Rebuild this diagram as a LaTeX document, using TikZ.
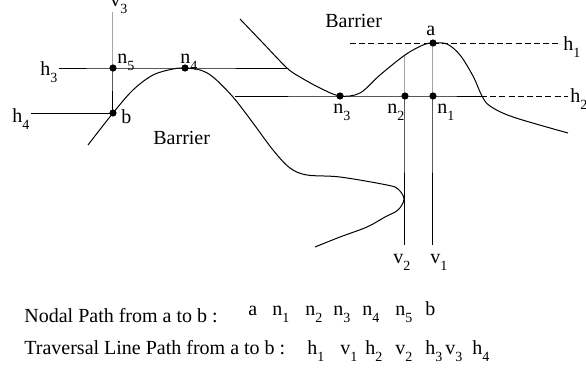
\documentclass[tikz,border=0pt]{standalone}
\usepackage{fontspec}
\setmainfont{Liberation Serif}
\newcommand{\lowsub}[1]{\raisebox{-3.5pt}{\fontsize{7}{8}\selectfont #1}}
\newcommand{\lbl}[2]{#1\lowsub{#2}}
\begin{document}
\begin{tikzpicture}[x=0.5pt,y=-0.5pt, font=\fontsize{10}{12}\selectfont,
  curve/.style={line width=0.5pt},
  tline/.style={line width=0.5pt},
  dline/.style={line width=0.5pt, dash pattern=on 3pt off 1.6pt},
  dot/.style={circle, fill, inner sep=0pt, minimum size=3.6pt},
  lab/.style={anchor=base west, inner sep=0pt}]
\useasboundingbox (0,0) rectangle (586,370);

% points
\coordinate (a) at (433,43);
\coordinate (n1) at (433,96);
\coordinate (n2) at (405,96);
\coordinate (n3) at (340,96);
\coordinate (n4) at (185,68);
\coordinate (n5) at (113,68);
\coordinate (b) at (113,113);
\coordinate (v3top) at (113,12);
\coordinate (v2top) at (405,55);
\coordinate (v2bot) at (405,245);
\coordinate (v1bot) at (433,245);
\coordinate (h1l) at (350,43);
\coordinate (h1r) at (560,43);
\coordinate (h2l) at (235,96);
\coordinate (h2m) at (481,96);
\coordinate (h2r) at (568,96);
\coordinate (h3l) at (59,68);
\coordinate (h3r) at (288,68);
\coordinate (h4l) at (31,113);

% barriers
\draw[curve] plot[smooth, tension=0.55] coordinates {(240,19) (262,42) (287,68) (300,77) (320,88) (340,96) (360,93) (380,75) (405,55) (423,45) (433,43) (447,44) (460,55) (473,76) (482,96) (490,106) (513,117) (568,133)};
\draw[curve] plot[smooth, tension=0.55] coordinates {(88,145) (113,113) (133,90) (153,75) (173,69) (185,68) (200,70) (213,77) (233,97) (253,123) (273,150) (290,168) (307,175) (340,177) (387,185) (398,189) (404,199) (398,210) (385,217) (367,227) (340,237) (315,247)};

% traversal lines
\draw[tline] (v3top) -- (n5) -- (b);
\draw[tline] (h3l) -- (n5) -- (n4) -- (h3r);
\draw[tline] (h4l) -- (b);
\draw[tline] (h2l) -- (n3) -- (n2) -- (n1) -- (h2m);
\draw[dline] (h2m) -- (h2r);
\draw[dline] (h1l) -- (a) -- (h1r);
\draw[tline] (v2top) -- (n2) -- (v2bot);
\draw[tline] (a) -- (n1) -- (v1bot);

% dots
\foreach \p in {a,n1,n2,n3,n4,n5,b} \node[dot] (d\p) at (\p) {};

% labels
\node[lab] (lv3) at (110,6) {\lbl{v}{3}};
\node[lab] (ln5) at (117,63) {\lbl{n}{5}};
\node[lab] (ln4) at (180,63) {\lbl{n}{4}};
\node[lab] (lh3) at (40,75) {\lbl{h}{3}};
\node[lab] (lh4) at (12,122) {\lbl{h}{4}};
\node[lab] (lb) at (121,123) {b};
\node[lab] (bar1) at (153,144) {Barrier};
\node[lab] (bar2) at (325,27) {Barrier};
\node[lab] (la) at (426,35) {a};
\node[lab] (lh1) at (563,50) {\lbl{h}{1}};
\node[lab] (lh2) at (570,102) {\lbl{h}{2}};
\node[lab] (ln3) at (333,113) {\lbl{n}{3}};
\node[lab] (ln2) at (387,113) {\lbl{n}{2}};
\node[lab] (ln1) at (437,113) {\lbl{n}{1}};
\node[lab] (lv2) at (393,263) {\lbl{v}{2}};
\node[lab] (lv1) at (430,263) {\lbl{v}{1}};

% bottom text
\node[lab] (t1) at (24,322) {Nodal Path from a to b :};
\node[lab] (s1a) at (248,315) {a};
\node[lab] (s1b) at (272,315) {\lbl{n}{1}};
\node[lab] (s1c) at (305,315) {\lbl{n}{2}};
\node[lab] (s1d) at (333,315) {\lbl{n}{3}};
\node[lab] (s1e) at (362,315) {\lbl{n}{4}};
\node[lab] (s1f) at (395,315) {\lbl{n}{5}};
\node[lab] (s1g) at (425,315) {b};
\node[lab] (t2) at (24,354) {Traversal Line Path from a to b :};
\node[lab] (s2a) at (307,354) {\lbl{h}{1}};
\node[lab] (s2b) at (340,354) {\lbl{v}{1}};
\node[lab] (s2c) at (365,354) {\lbl{h}{2}};
\node[lab] (s2d) at (395,354) {\lbl{v}{2}};
\node[lab] (s2e) at (425,354) {\lbl{h}{3}};
\node[lab] (s2f) at (445,354) {\lbl{v}{3}};
\node[lab] (s2g) at (472,354) {\lbl{h}{4}};
\end{tikzpicture}
\end{document}
